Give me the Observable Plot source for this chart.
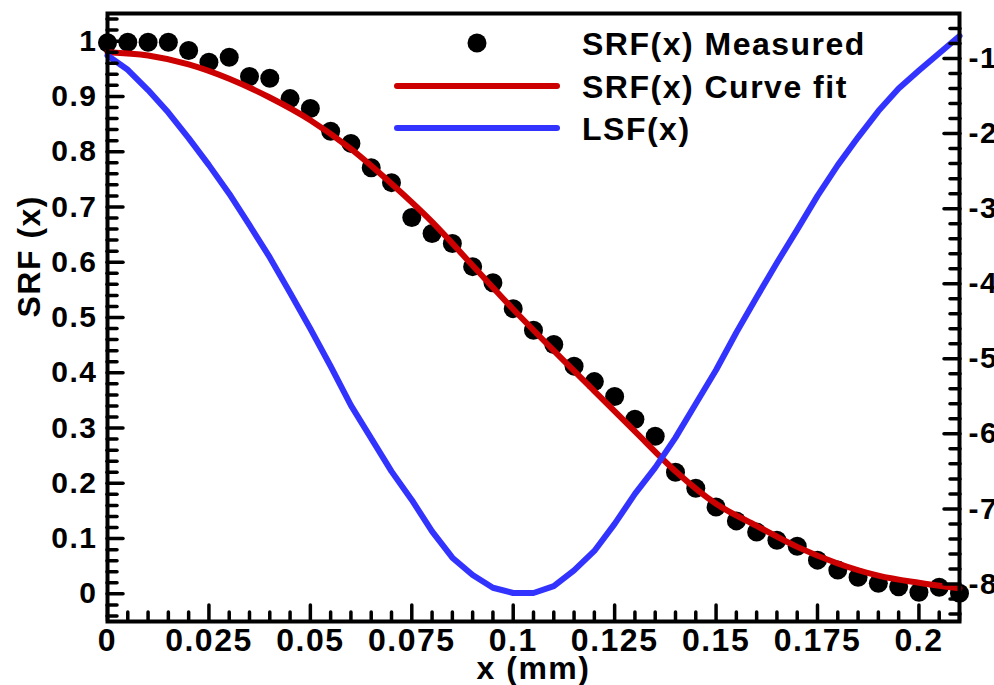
<!DOCTYPE html>
<html><head><meta charset="utf-8">
<script src="https://cdn.jsdelivr.net/npm/d3@7"></script>
<script src="https://cdn.jsdelivr.net/npm/@observablehq/plot@0.6"></script>
<style>
html,body{margin:0;padding:0;background:#fff;}
#wrap{position:relative;width:994px;height:685px;overflow:hidden;}
#wrap svg text{letter-spacing:1.5px;}
#legend{position:absolute;left:0;top:0;pointer-events:none;}
</style></head><body><div id="wrap"></div>
<script>
// ---- data ----
const xMeasured = [0,0.005,0.01,0.015,0.02,0.025,0.03,0.035,0.04,0.045,0.05,0.055,0.06,0.065,0.07,0.075,0.08,0.085,0.09,0.095,0.1,0.105,0.11,0.115,0.12,0.125,0.13,0.135,0.14,0.145,0.15,0.155,0.16,0.165,0.17,0.175,0.18,0.185,0.19,0.195,0.2,0.205,0.21];
const srfMeasured = [0.997,0.998,0.998,0.998,0.983,0.962,0.971,0.936,0.933,0.896,0.878,0.837,0.815,0.771,0.744,0.681,0.652,0.634,0.592,0.563,0.516,0.477,0.451,0.412,0.384,0.357,0.316,0.285,0.22,0.191,0.157,0.132,0.112,0.097,0.086,0.061,0.043,0.03,0.019,0.013,0.003,0.012,0.001];
const xFit = [0,0.01,0.02,0.03,0.04,0.05,0.06,0.07,0.08,0.09,0.1,0.11,0.12,0.13,0.14,0.15,0.16,0.17,0.18,0.19,0.2,0.21];
const srfFit = [0.98,0.974,0.958,0.932,0.898,0.857,0.805,0.742,0.673,0.594,0.515,0.44,0.367,0.294,0.222,0.163,0.123,0.085,0.055,0.033,0.02,0.01];
const xLsf = [0,0.005,0.01,0.015,0.02,0.025,0.03,0.035,0.04,0.045,0.05,0.055,0.06,0.065,0.07,0.075,0.08,0.085,0.09,0.095,0.1,0.105,0.11,0.115,0.12,0.125,0.13,0.135,0.14,0.145,0.15,0.155,0.16,0.165,0.17,0.175,0.18,0.185,0.19,0.195,0.2,0.205,0.21];
const lsfValues = [-0.96,-1.15,-1.42,-1.72,-2.06,-2.42,-2.8,-3.22,-3.65,-4.12,-4.6,-5.1,-5.62,-6.06,-6.5,-6.88,-7.3,-7.65,-7.88,-8.05,-8.12,-8.12,-8.03,-7.82,-7.56,-7.2,-6.8,-6.45,-6.05,-5.6,-5.15,-4.65,-4.18,-3.72,-3.28,-2.83,-2.42,-2.05,-1.7,-1.4,-1.16,-0.93,-0.7];

const xTicks = [0,0.025,0.05,0.075,0.1,0.125,0.15,0.175,0.2];
const xTickLabels = ["0","0.025","0.05","0.075","0.1","0.125","0.15","0.175","0.2"];
const yTicks = [0,0.1,0.2,0.3,0.4,0.5,0.6,0.7,0.8,0.9,1];
const yTickLabels = ["0","0.1","0.2","0.3","0.4","0.5","0.6","0.7","0.8","0.9","1"];
const y2Ticks = [-1,-2,-3,-4,-5,-6,-7,-8];
const y2TickLabels = ["-1","-2","-3","-4","-5","-6","-7","-8"];

const seriesNames = ["SRF(x) Measured","SRF(x) Curve fit","LSF(x)"];
const seriesColors = ["#000000","#cc0000","#3333ff"];
const xTitle = "x (mm)";
const yTitle = "SRF (x)";

// ---- scales / helpers ----
const yDomain = [-0.05, 1.05];
const y2Domain = [-8.5, -0.4];
const toLeft = d3.scaleLinear(y2Domain, yDomain);

const measured = xMeasured.map((x, i) => ({x, y: srfMeasured[i]}));
const fit = xFit.map((x, i) => ({x, y: srfFit[i]}));
const lsf = xLsf.map((x, i) => ({x, v: lsfValues[i]}));

const xLab = new Map(xTicks.map((d, i) => [d, xTickLabels[i]]));
const yLab = new Map(yTicks.map((d, i) => [d, yTickLabels[i]]));
const y2Pos = y2Ticks.map(toLeft);
const y2Lab = new Map(y2Pos.map((d, i) => [d, y2TickLabels[i]]));

const xMinor = d3.range(0, 43).map(i => +(i * 0.005).toFixed(3)).filter(d => !xTicks.includes(d));
const yMinor = d3.range(-2, 53).map(i => +(i * 0.02).toFixed(2)).filter(d => Math.abs(d * 10 - Math.round(d * 10)) > 1e-6);
const y2Minor = d3.range(-42, -2).map(i => +(i * 0.2).toFixed(1)).filter(d => Math.abs(d - Math.round(d)) > 1e-6).map(toLeft);

const font = '"Liberation Sans", Arial, Helvetica, sans-serif';
const tickStyle = {strokeWidth: 3.5, strokeLinecap: "round", label: null};

const plot = Plot.plot({
  width: 994,
  height: 685,
  marginLeft: 107,
  marginRight: 35,
  marginTop: 13,
  marginBottom: 64,
  x: {domain: [0, 0.21]},
  y: {domain: yDomain},
  style: {fontFamily: font, fontWeight: "bold", fontSize: "30px", color: "#000", background: "#fff", overflow: "visible"},
  marks: [
    Plot.dot(measured, {x: "x", y: "y", r: 9.5, fill: seriesColors[0], stroke: "none"}),
    Plot.line(fit, {x: "x", y: "y", stroke: seriesColors[1], strokeWidth: 6, curve: "monotone-x"}),
    Plot.line(lsf, {x: "x", y: d => toLeft(d.v), stroke: seriesColors[2], strokeWidth: 6, strokeLinejoin: "round"}),
    // bottom axis
    Plot.axisX(xTicks, {anchor: "bottom", tickSize: -16, tickPadding: 23, fontSize: 32, tickFormat: d => xLab.get(d), ...tickStyle}),
    Plot.axisX(xMinor, {anchor: "bottom", tickSize: -9, tickFormat: () => "", ...tickStyle}),
    // left axis
    Plot.axisY(yTicks, {anchor: "left", tickSize: -16, tickPadding: 26, fontSize: 30, tickFormat: d => yLab.get(d), ...tickStyle}),
    Plot.axisY(yMinor, {anchor: "left", tickSize: -10, tickFormat: () => "", ...tickStyle}),
    // right axis (LSF)
    Plot.axisY(y2Pos, {anchor: "right", tickSize: -16, tickPadding: 25, fontSize: 30, tickFormat: d => y2Lab.get(d), ...tickStyle}),
    Plot.axisY(y2Minor, {anchor: "right", tickSize: -10, tickFormat: () => "", ...tickStyle}),
    Plot.frame({stroke: "#000", strokeWidth: 4}),
    Plot.text([yTitle], {text: d => d, frameAnchor: "left", rotate: -90, dx: -78, fontSize: 32}),
    Plot.text([xTitle], {text: d => d, frameAnchor: "bottom", lineAnchor: "bottom", dy: 57, fontSize: 32})
  ]
});

const wrap = document.getElementById("wrap");
wrap.appendChild(plot);

// ---- legend (inside the frame, top right) ----
const leg = d3.select(wrap).append("svg").attr("id", "legend")
  .attr("width", 994).attr("height", 685)
  .style("font-family", font).style("font-weight", "bold").style("font-size", "32px");
const rowY = [43, 86, 128];
seriesNames.forEach((name, i) => {
  if (i === 0) {
    leg.append("circle").attr("cx", 477).attr("cy", rowY[i]).attr("r", 9.5).attr("fill", seriesColors[i]);
  } else {
    leg.append("line").attr("x1", 397).attr("x2", 557).attr("y1", rowY[i]).attr("y2", rowY[i])
      .attr("stroke", seriesColors[i]).attr("stroke-width", 6).attr("stroke-linecap", "round");
  }
  leg.append("text").attr("x", 582).attr("y", rowY[i]).attr("dy", "0.36em").attr("fill", "#000").text(name);
});
</script>
</body></html>
